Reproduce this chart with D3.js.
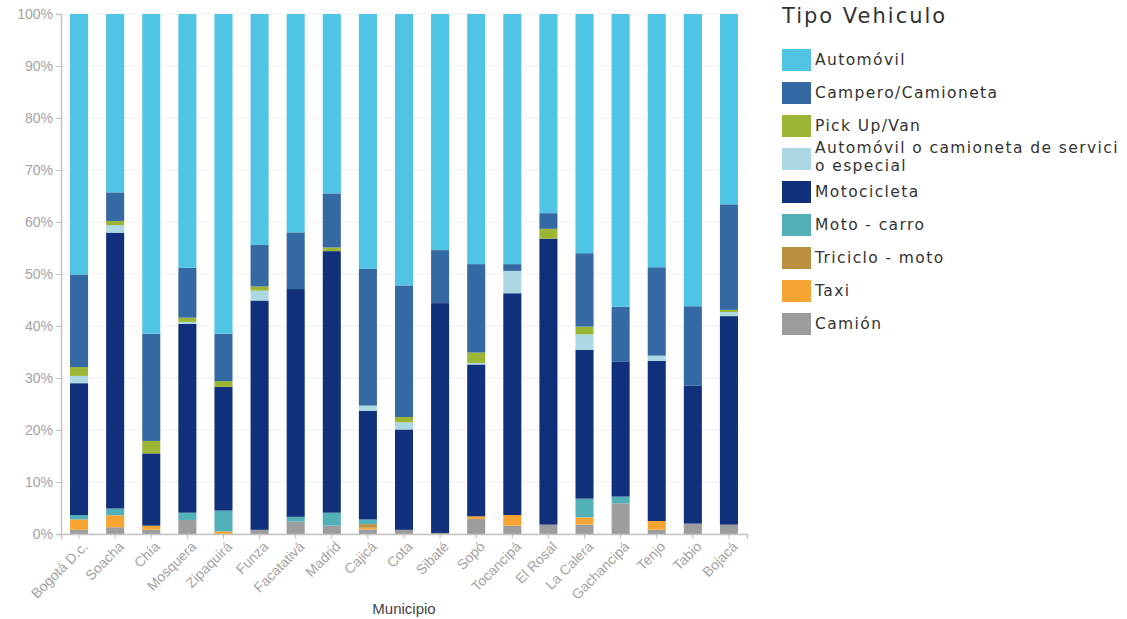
<!DOCTYPE html>
<html>
<head>
<meta charset="utf-8">
<script src="https://cdn.jsdelivr.net/npm/d3@7"></script>
<style>
  body { margin: 0; background: #fff; }
  svg { display: block; }
  .axis text { font-family: "Liberation Sans", Arial, sans-serif; font-size: 14px; fill: #a3a3a3; }
  .axis path, .axis line { stroke: #c4c4c4; }
</style>
</head>
<body>
<div id="chart"></div>
<script>
const municipios = ["Bogotá D.c.", "Soacha", "Chía", "Mosquera", "Zipaquirá", "Funza", "Facatativá",
  "Madrid", "Cajicá", "Cota", "Sibaté", "Sopó", "Tocancipá", "El Rosal", "La Calera", "Gachancipá",
  "Tenjo", "Tabio", "Bojacá"];

// stacking order: bottom to top
const tipos = ["Camión", "Taxi", "Triciclo - moto", "Moto - carro", "Motocicleta",
  "Automóvil o camioneta de servicio especial", "Pick Up/Van", "Campero/Camioneta", "Automóvil"];

// percentages per municipio, same order as municipios
const camion     = [0.8, 1.3, 0.8, 2.7, 0, 0.8, 2.4, 1.6, 0.9, 0.8, 0.2, 2.9, 1.6, 1.8, 1.8, 5.9, 0.8, 2.0, 1.8];
const taxi       = [2.0, 2.3, 0.8, 0, 0.5, 0, 0, 0, 0.3, 0, 0, 0.5, 2.05, 0, 1.4, 0, 1.7, 0, 0];
const triciclo   = [0, 0, 0, 0, 0, 0, 0, 0, 0.7, 0, 0, 0, 0, 0, 0, 0, 0, 0, 0];
const motoCarro  = [0.85, 1.3, 0, 1.4, 4.0, 0, 0.9, 2.5, 0.9, 0, 0, 0, 0, 0, 3.6, 1.3, 0, 0, 0];
const motocicleta = [25.35, 53.05, 13.9, 36.3, 23.8, 44.1, 43.8, 50.3, 20.9, 19.3, 44.2, 29.2, 42.65, 55.0, 28.6, 25.9, 30.8, 26.5, 40.1];
const especial   = [1.4, 1.45, 0, 0.4, 0, 1.9, 0, 0, 1.0, 1.4, 0, 0.3, 4.3, 0, 3.0, 0, 1.0, 0, 0.8];
const pickUp     = [1.7, 0.8, 2.4, 0.8, 1.1, 0.8, 0, 0.7, 0, 1.0, 0, 2.0, 0, 1.9, 1.5, 0, 0, 0, 0.4];
const campero    = [17.8, 5.5, 20.6, 9.6, 9.1, 8.0, 10.9, 10.4, 26.3, 25.3, 10.2, 17.0, 1.3, 3.0, 14.1, 10.6, 17.0, 15.3, 20.3];
const automovil  = [50.1, 34.3, 61.5, 48.8, 61.5, 44.4, 42.0, 34.5, 49.0, 52.2, 45.4, 48.1, 48.1, 38.3, 46.0, 56.3, 48.7, 56.2, 36.6];

const seriesValues = [camion, taxi, triciclo, motoCarro, motocicleta, especial, pickUp, campero, automovil];

const colors = ["#9d9d9f", "#f8a433", "#bb9140", "#52b1b8", "#11307b", "#abd8e3", "#9bb634", "#3569a3", "#50c4e4"];

// legend order (top to bottom) as in the reference
const legendItems = [
  { tipo: "Automóvil", lines: ["Automóvil"] },
  { tipo: "Campero/Camioneta", lines: ["Campero/Camioneta"] },
  { tipo: "Pick Up/Van", lines: ["Pick Up/Van"] },
  { tipo: "Automóvil o camioneta de servicio especial", lines: ["Automóvil o camioneta de servici", "o especial"] },
  { tipo: "Motocicleta", lines: ["Motocicleta"] },
  { tipo: "Moto - carro", lines: ["Moto - carro"] },
  { tipo: "Triciclo - moto", lines: ["Triciclo - moto"] },
  { tipo: "Taxi", lines: ["Taxi"] },
  { tipo: "Camión", lines: ["Camión"] },
];

const yTicks = [0, 10, 20, 30, 40, 50, 60, 70, 80, 90, 100];

const W = 1127, H = 619;
const margin = { top: 14, right: 380, bottom: 85, left: 61 };
const innerW = W - margin.left - margin.right;
const innerH = H - margin.top - margin.bottom;

const rows = municipios.map((m, i) => {
  const r = { municipio: m };
  tipos.forEach((t, k) => { r[t] = seriesValues[k][i]; });
  return r;
});

const stack = d3.stack().keys(tipos).offset(d3.stackOffsetExpand);
const stacked = stack(rows);

const color = d3.scaleOrdinal().domain(tipos).range(colors);

const svg = d3.select("#chart").append("svg").attr("width", W).attr("height", H);
const g = svg.append("g").attr("transform", `translate(${margin.left},${margin.top})`);

const x = d3.scaleBand().domain(municipios).range([0, innerW]).paddingInner(0.5).paddingOuter(0.25);
const y = d3.scaleLinear().domain([0, 1]).range([innerH, 0]);

// grid
g.append("g")
  .selectAll("line.hgrid")
  .data(yTicks)
  .join("line")
  .attr("x1", 0).attr("x2", innerW)
  .attr("y1", (d) => y(d / 100)).attr("y2", (d) => y(d / 100))
  .attr("stroke", "#efefef");

g.append("g")
  .selectAll("line.vgrid")
  .data(municipios)
  .join("line")
  .attr("x1", (d) => x(d) + x.bandwidth() / 2)
  .attr("x2", (d) => x(d) + x.bandwidth() / 2)
  .attr("y1", 0).attr("y2", innerH)
  .attr("stroke", "#f4f4f4");

// bars
g.append("g")
  .selectAll("g.layer")
  .data(stacked)
  .join("g")
  .attr("fill", (d) => color(d.key))
  .selectAll("rect")
  .data((d) => d)
  .join("rect")
  .attr("x", (d) => x(d.data.municipio))
  .attr("width", x.bandwidth())
  .attr("y", (d) => y(d[1]))
  .attr("height", (d) => Math.max(0, y(d[0]) - y(d[1])));

// axes
g.append("g")
  .attr("class", "axis")
  .call(d3.axisLeft(y).tickValues(yTicks.map((d) => d / 100)).tickFormat((d) => Math.round(d * 100) + "%").tickSizeOuter(0).tickSize(5))
  .call((s) => s.select(".domain").attr("stroke-width", 1.5));

g.append("g")
  .attr("class", "axis")
  .attr("transform", `translate(0,${innerH})`)
  .call(d3.axisBottom(x).tickSizeOuter(0).tickSize(5))
  .call((s) => s.select(".domain").attr("stroke-width", 1.5))
  .selectAll("text")
  .attr("text-anchor", "end")
  .attr("dx", "-0.2em")
  .attr("dy", "0.6em")
  .attr("transform", "rotate(-45)");

svg.append("text")
  .attr("x", 404)
  .attr("y", 614)
  .attr("text-anchor", "middle")
  .style("font-family", "'Liberation Sans', Arial, sans-serif")
  .style("font-size", "15px")
  .style("fill", "#444")
  .text("Municipio");

// legend
const lg = svg.append("g").attr("transform", "translate(782,0)");
lg.append("text")
  .attr("x", 0).attr("y", 23)
  .style("font-family", "'DejaVu Sans', sans-serif")
  .style("font-size", "21px")
  .style("letter-spacing", "2px")
  .style("fill", "#333")
  .text("Tipo Vehiculo");

const item = lg.selectAll("g.item")
  .data(legendItems)
  .join("g")
  .attr("class", "item")
  .attr("transform", (d, i) => `translate(0,${49 + i * 33})`);

item.append("rect")
  .attr("width", 29).attr("height", 22)
  .attr("fill", (d) => color(d.tipo));

item.append("text")
  .style("font-family", "'DejaVu Sans', sans-serif")
  .style("font-size", "15.5px")
  .style("letter-spacing", "1.4px")
  .style("fill", "#333")
  .selectAll("tspan")
  .data((d) => d.lines.map((l, j) => ({ l, j, n: d.lines.length })))
  .join("tspan")
  .attr("x", 33)
  .attr("y", (d) => (d.n === 1 ? 16 : 5 + d.j * 18))
  .text((d) => d.l);
</script>
</body>
</html>
